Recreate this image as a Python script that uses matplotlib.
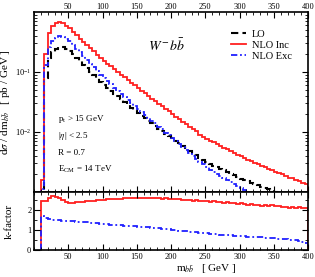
import numpy as np
import matplotlib
matplotlib.use('Agg')
import matplotlib.pyplot as plt
from matplotlib.ticker import MultipleLocator, FixedLocator, LogLocator, NullFormatter

plt.rcParams['font.family'] = 'Liberation Serif'
plt.rcParams['mathtext.fontset'] = 'stix'

# bin edges of m_bb (GeV), 5 GeV bins
edges = np.arange(10, 405, 5)

# LO cross section per bin (pb/GeV)
lo = np.array([
    0.00065, 0.080, 0.170, 0.215, 0.245, 0.262, 0.258, 0.243, 0.225, 0.197,
    0.172, 0.150, 0.131, 0.115, 0.101, 0.089, 0.078, 0.069, 0.061, 0.0545,
    0.0488, 0.0437, 0.0391, 0.0350, 0.0314, 0.0282, 0.0253, 0.0228, 0.0205, 0.0186,
    0.0169, 0.0153, 0.0139, 0.0126, 0.0114, 0.0104, 0.0094, 0.0086, 0.0078, 0.0071,
    0.0065, 0.0059, 0.0054, 0.0049, 0.0045, 0.0041, 0.0037, 0.0034, 0.0031, 0.00292,
    0.00274, 0.00258, 0.00242, 0.00228, 0.00214, 0.00201, 0.00189, 0.00178, 0.00167, 0.00159,
    0.00151, 0.00143, 0.00136, 0.00130, 0.00123, 0.00117, 0.00111, 0.00106, 0.00100, 0.00095,
    0.00091, 0.00086, 0.00082, 0.00078, 0.00074, 0.00071, 0.00067, 0.00064])

# k-factors NLO / LO
k_inc = np.array([
    2.45, 2.45, 2.62, 2.70, 2.66, 2.58, 2.50, 2.42, 2.37, 2.36,
    2.38, 2.40, 2.42, 2.44, 2.46, 2.47, 2.49, 2.50, 2.52, 2.53,
    2.54, 2.56, 2.55, 2.57, 2.58, 2.60, 2.59, 2.61, 2.60, 2.58,
    2.60, 2.62, 2.59, 2.61, 2.58, 2.57, 2.59, 2.55, 2.55, 2.53,
    2.56, 2.52, 2.50, 2.51, 2.47, 2.49, 2.45, 2.46, 2.44, 2.42,
    2.44, 2.40, 2.41, 2.37, 2.39, 2.35, 2.36, 2.31, 2.34, 2.30,
    2.26, 2.29, 2.24, 2.27, 2.22, 2.24, 2.20, 2.23, 2.18, 2.21,
    2.15, 2.17, 2.12, 2.15, 2.10, 2.13, 2.09, 2.11])

k_exc = np.array([
    1.70, 1.62, 1.55, 1.50, 1.52, 1.49, 1.47, 1.46, 1.45, 1.44,
    1.42, 1.41, 1.39, 1.38, 1.36, 1.35, 1.33, 1.31, 1.29, 1.28,
    1.27, 1.25, 1.24, 1.23, 1.21, 1.20, 1.19, 1.18, 1.17, 1.16,
    1.14, 1.13, 1.11, 1.10, 1.08, 1.06, 1.04, 1.03, 1.01, 0.99,
    0.97, 0.95, 0.93, 0.92, 0.90, 0.88, 0.86, 0.85, 0.83, 0.81,
    0.80, 0.78, 0.77, 0.75, 0.74, 0.73, 0.71, 0.70, 0.69, 0.68,
    0.66, 0.67, 0.64, 0.63, 0.64, 0.61, 0.60, 0.58, 0.59, 0.56,
    0.54, 0.55, 0.52, 0.50, 0.48, 0.46, 0.42, 0.37])

nlo_inc = lo * k_inc
nlo_exc = lo * k_exc

xticks = [50, 100, 150, 200, 250, 300, 350, 400]
cuts = [r'p$_\mathregular{t}$ > 15 GeV', r'|$\eta$| < 2.5', 'R = 0.7',
        r'E$_\mathregular{CM}$ = 14 TeV']

fig = plt.figure(figsize=(3.15, 2.77), dpi=100)
ax1 = fig.add_axes([0.108, 0.307, 0.870, 0.650])
ax2 = fig.add_axes([0.108, 0.0975, 0.870, 0.2095], sharex=ax1)

lo_style = dict(color='black', lw=1.5, linestyle=(0, (3.5, 2)))
inc_style = dict(color='#ff2020', lw=1.3)
exc_style = dict(color='#2020ff', lw=1.3, linestyle=(0, (3.5, 1.5, 1, 1.5)))

ax1.stairs(lo, edges, baseline=1e-5, label='LO', **lo_style)
ax1.stairs(nlo_inc, edges, baseline=1e-5, label='NLO Inc', **inc_style)
ax1.stairs(nlo_exc, edges, baseline=1e-5, label='NLO Exc', **exc_style)
ax1.set_yscale('log')
ax1.set_ylim(1e-3, 1)
ax1.set_xlim(0, 400)
ax1.yaxis.set_major_locator(FixedLocator([1e-2, 1e-1]))
ax1.yaxis.set_minor_locator(LogLocator(subs=np.arange(2, 10)))
ax1.yaxis.set_minor_formatter(NullFormatter())

ax2.stairs(k_inc, edges, baseline=0, **inc_style)
ax2.stairs(k_exc, edges, baseline=0, **exc_style)
ax2.set_ylim(0, 2.9)
ax2.yaxis.set_major_locator(FixedLocator([0, 1, 2]))
ax2.yaxis.set_minor_locator(MultipleLocator(0.5))
ax2.xaxis.set_major_locator(FixedLocator(xticks))
ax2.xaxis.set_minor_locator(MultipleLocator(10))

for ax in (ax1, ax2):
    ax.tick_params(which='both', direction='in', top=True, right=True,
                   labelsize=6, pad=2)
    ax.tick_params(which='major', length=4, width=0.8)
    ax.tick_params(which='minor', length=2, width=0.6)
    for s in ax.spines.values():
        s.set_linewidth(1.2)
ax1.tick_params(labeltop=True, labelbottom=False)
ax1.tick_params(axis='x', pad=1)

ax1.set_ylabel(r'd$\sigma$ / dm$_{b\bar{b}}$   [ pb / GeV ]', fontsize=8)
ax1.yaxis.set_label_coords(-0.08, 0.5)
ax2.set_ylabel('k-factor', fontsize=8)
ax2.yaxis.set_label_coords(-0.075, 0.5)
ax2.set_xlabel(r'm$_{b\bar{b}}$   [ GeV ]', fontsize=8)
ax2.xaxis.set_label_coords(0.63, -0.2)

ax1.text(0.415, 0.81, r'$W^{-}\,b\bar{b}$', transform=ax1.transAxes,
         fontsize=10, va='center')
ypos = [0.404, 0.311, 0.219, 0.126]
for t, y in zip(cuts, ypos):
    ax1.text(0.088, y, t, transform=ax1.transAxes, fontsize=6.5, va='center')

ax1.legend(loc='upper left', bbox_to_anchor=(0.7, 0.93), frameon=False,
           fontsize=7.5, handlelength=1.4, handletextpad=0.6,
           labelspacing=0.15, borderpad=0)

fig.savefig('out.png', dpi=100)
